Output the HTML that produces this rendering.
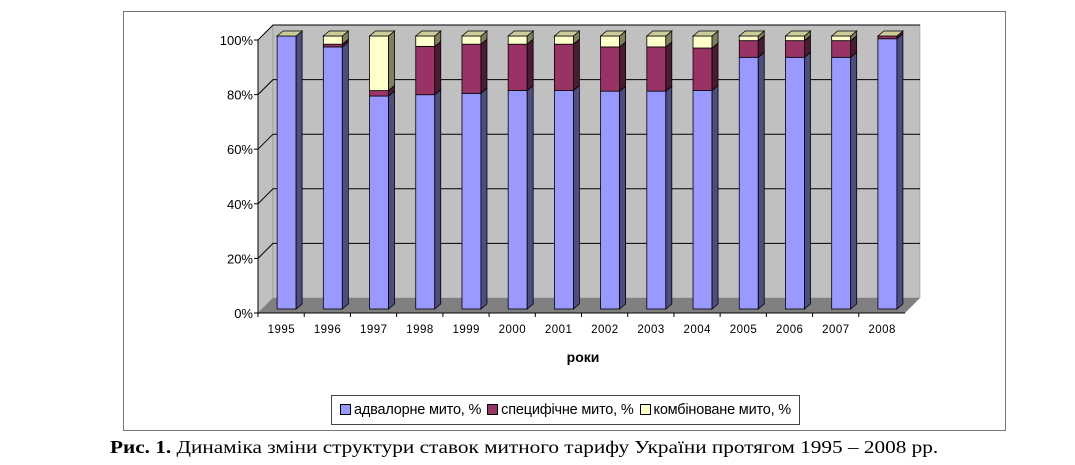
<!DOCTYPE html>
<html><head><meta charset="utf-8"><style>
body{margin:0;background:#fff;width:1075px;height:465px;overflow:hidden;position:relative;font-family:"Liberation Sans",sans-serif}
#frame{position:absolute;left:123px;top:11px;width:883px;height:420px;border:1px solid #777;box-sizing:border-box}
#legend{position:absolute;left:331px;top:395px;width:469px;height:30px;border:1px solid #444;box-sizing:border-box;font-size:14.5px;display:flex;align-items:center;justify-content:center;gap:6px;color:#000;letter-spacing:-0.2px;white-space:nowrap}
.sw{display:inline-block;width:9px;height:9px;border:1px solid #000;margin-right:3px;vertical-align:-1px}
#caption{position:absolute;left:110px;top:437px;font-family:"Liberation Serif",serif;font-size:18px;color:#000;white-space:nowrap;transform-origin:0 0;transform:scaleX(1.18)}
</style></head><body>
<div id="frame"></div>
<svg id="chart" width="1075" height="465" style="position:absolute;left:0;top:0"></svg>
<div id="legend">
<span><span class="sw" style="background:#9999ff"></span>адвалорне мито, %</span>
<span><span class="sw" style="background:#993366"></span>специфічне мито, %</span>
<span><span class="sw" style="background:#ffffcc"></span>комбіноване мито, %</span>
</div>
<div id="caption"><b>Рис. 1.</b> Динаміка зміни структури ставок митного тарифу України протягом 1995 – 2008 рр.</div>
<script>
const categories=["1995","1996","1997","1998","1999","2000","2001","2002","2003","2004","2005","2006","2007","2008"];
const advalorne=[100,96,78,78.5,79,80,80,79.8,79.8,80,92.2,92.2,92.2,99];
const specific=[0,1,2,17.7,18,17,17,16.2,16.2,15.6,6.1,6.1,6.1,1];
const combined=[0,3,20,3.8,3,3,3,4,4,4.4,1.7,1.7,1.7,0];
const yTicks=["0%","20%","40%","60%","80%","100%"];
const svg=document.getElementById('chart');
const NS="http://www.w3.org/2000/svg";
function add(tag,attrs,parent){const e=document.createElementNS(NS,tag);for(const k in attrs)e.setAttribute(k,attrs[k]);(parent||svg).appendChild(e);return e;}
const X0=258,Y0=313,Y100=40,DX=15,DY=-15,STEP=(905-258)/categories.length;
const yAxis=v=>Y0-(Y0-Y100)*v/100;
const xAxis=i=>X0+STEP*(i+0.5);
let e;
e=add('polygon',{points:`${X0},${Y0} ${X0+DX},${Y0+DY} ${X0+DX},${Y100+DY} ${X0},${Y100}`,fill:'#c0c0c0',stroke:'#888','stroke-width':0.5});

e=add('rect',{x:X0+DX,y:Y100+DY,width:905-X0,height:Y0-Y100,fill:'#c0c0c0',stroke:'#888','stroke-width':0.5});

e=add('polygon',{points:`${X0},${Y0} ${X0+DX},${Y0+DY} ${905+DX},${Y0+DY} 905,${Y0}`,fill:'#808080'});

yTicks.forEach((t,k)=>{const v=k*20;const y=yAxis(v);
 if(k>0){e=add('polyline',{points:`${X0},${y} ${X0+DX},${y+DY} ${905+DX},${y+DY}`,fill:'none',stroke:'#000','stroke-width':1});
 }
 e=add('line',{x1:X0-4,y1:y,x2:X0,y2:y,stroke:'#000'});
 
 e=add('text',{x:X0-5,y:y+5,'text-anchor':'end','font-size':13,fill:'#000'});e.textContent=t;
 
});
e=add('line',{x1:X0,y1:Y100,x2:X0,y2:Y0,stroke:'#000'});

e=add('line',{x1:X0,y1:Y0,x2:905,y2:Y0,stroke:'#000'});

const BW=19,BD=6,BY=-5,BOFF=-4;
const cols=[['#9999ff','#4d4d80'],['#993366','#4d1a33'],['#ffffcc','#80805f']];
const names=['advalorne','specific','combined'];
categories.forEach((c,i)=>{
 const x=X0+STEP*i;
 e=add('line',{x1:x,y1:Y0,x2:x,y2:Y0+4,stroke:'#000'});
 
 e=add('text',{x:xAxis(i),y:Y0+20,'text-anchor':'middle','font-size':11.5,fill:'#000',textLength:27});e.textContent=c;
 
 const bx=xAxis(i)-4;
 let base=0;const vals=[advalorne[i],specific[i],combined[i]];
 vals.forEach((v,s)=>{ if(v<=0)return;
  const yb=yAxis(base)+BOFF,yt=yAxis(base+v)+BOFF;
  const g=add('g',{});
  
  
  add('rect',{x:bx,y:yt,width:BW,height:yb-yt,fill:cols[s][0],stroke:'#000','stroke-width':0.8},g);
  add('polygon',{points:`${bx+BW},${yb} ${bx+BW+BD},${yb+BY} ${bx+BW+BD},${yt+BY} ${bx+BW},${yt}`,fill:cols[s][1],stroke:'#000','stroke-width':0.8},g);
  base+=v;
 });
 const yt=yAxis(base)+BOFF;
 e=add('polygon',{points:`${bx},${yt} ${bx+BD},${yt+BY} ${bx+BW+BD},${yt+BY} ${bx+BW},${yt}`,fill:'#cccc99',stroke:'#000','stroke-width':0.8});
 
});
e=add('text',{x:583,y:362,'text-anchor':'middle','font-size':14,'font-weight':'bold',fill:'#000'});e.textContent='роки';

</script>
</body></html>
